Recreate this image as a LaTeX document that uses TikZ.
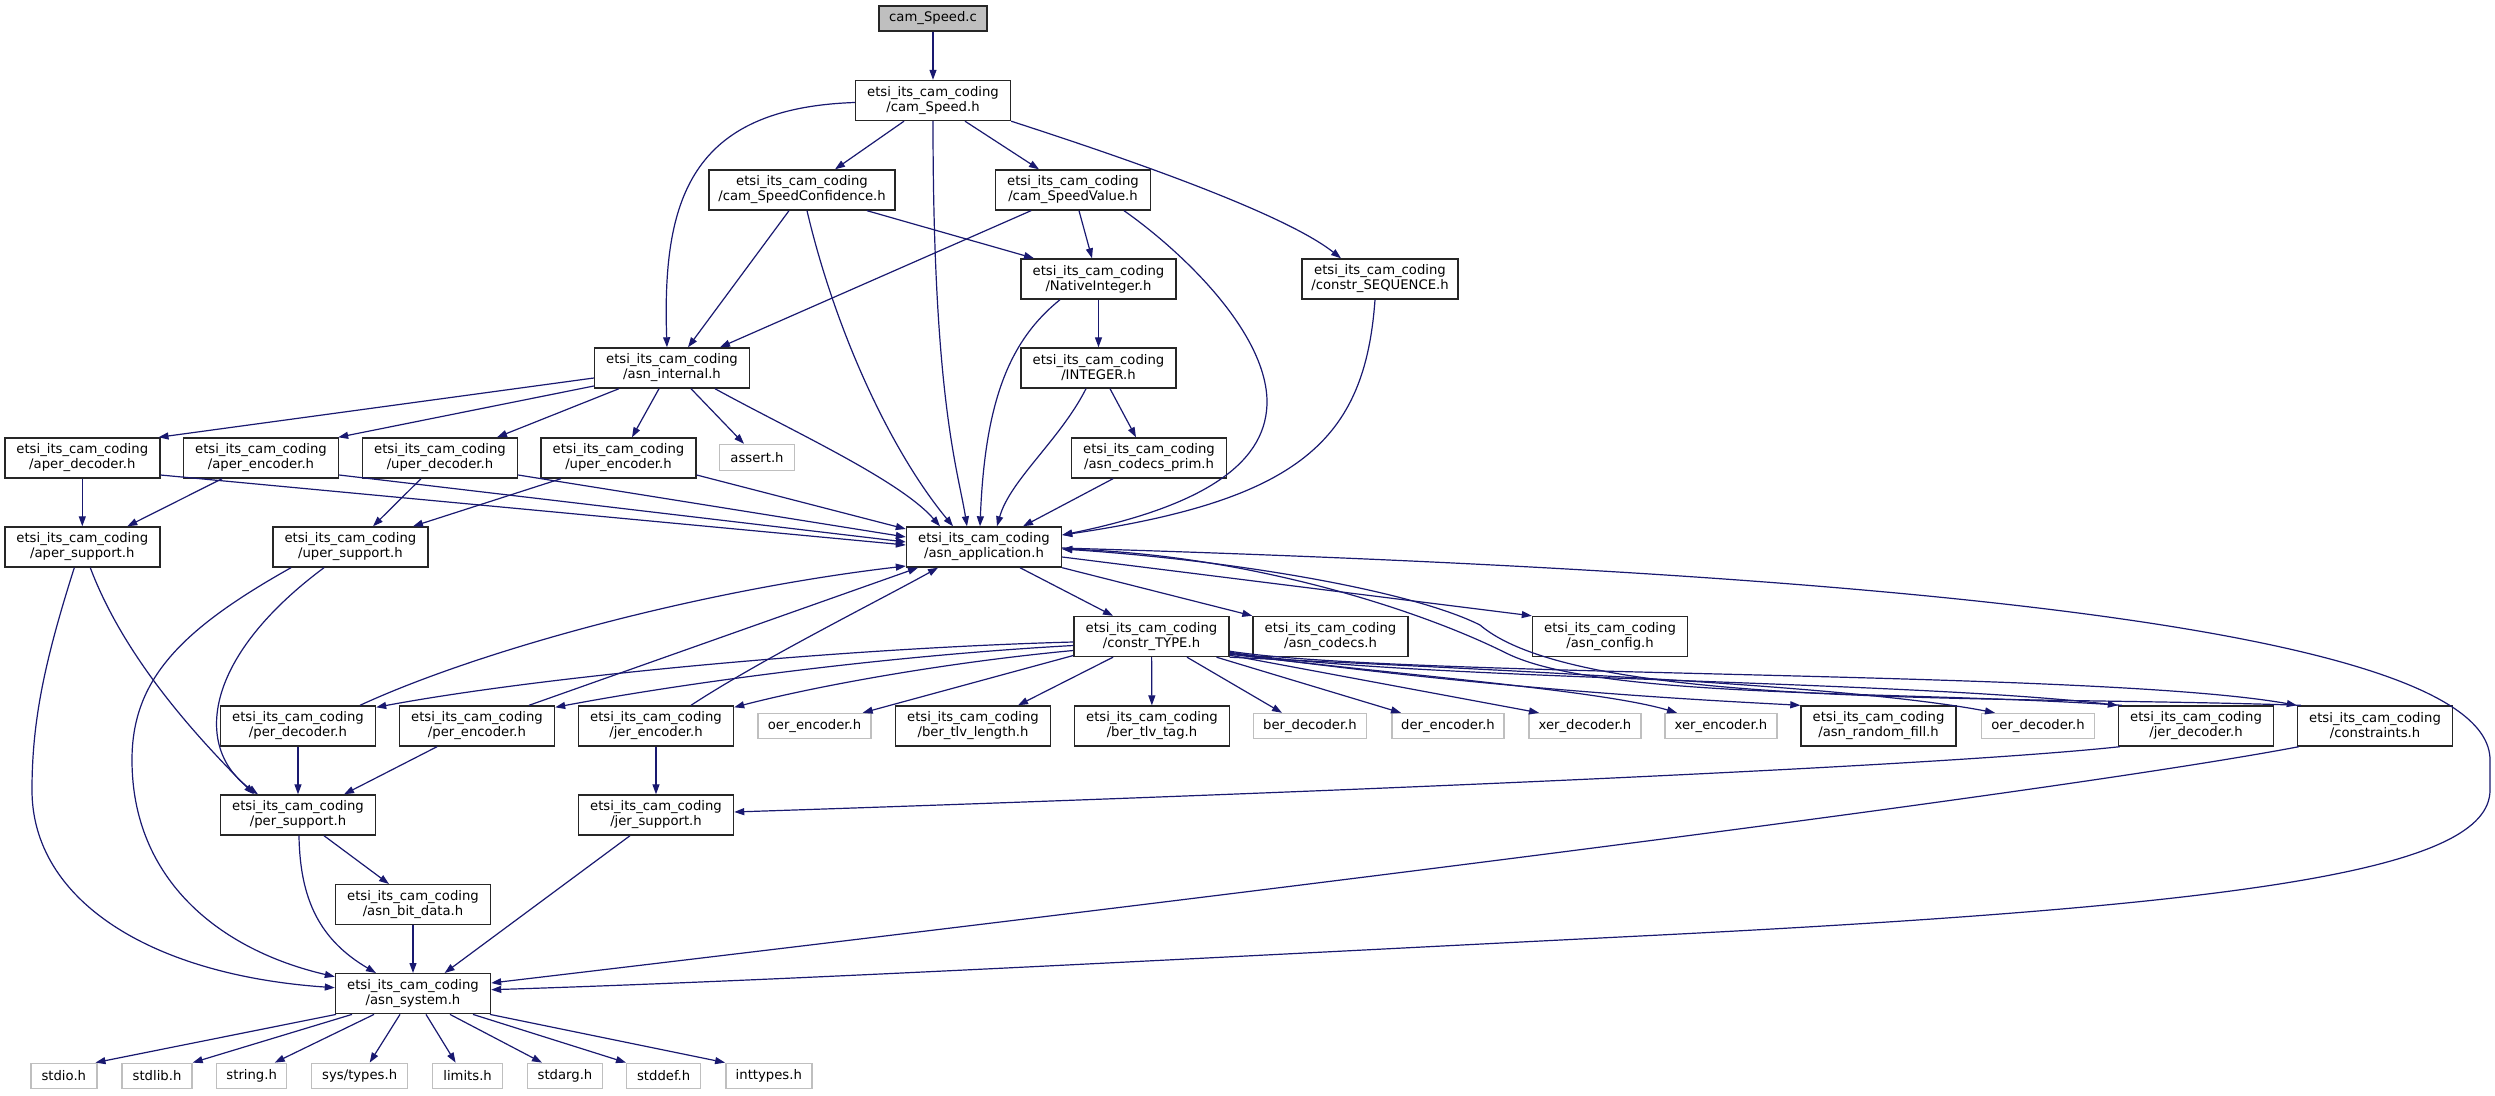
\documentclass[tikz,border=0pt]{standalone}
\usepackage{fontspec}
\setmainfont{DejaVu Sans}
\usetikzlibrary{arrows.meta}
\definecolor{mblue}{RGB}{25,25,112}
\definecolor{lgray}{RGB}{191,191,191}
\newcommand\etsilbl[1]{etsi\_its\_cam\_coding\\/#1}
\tikzset{
  box/.style={draw=black!85, line width=1.4pt, fill=white, minimum width=#1, minimum height=40pt,
    inner sep=0pt, align=center, font=\fontsize{13.2pt}{15pt}\selectfont},
  box/.default=155pt,
  sbox/.style={draw=lgray, line width=1.4pt, fill=white, minimum width=#1, minimum height=25pt,
    inner sep=0pt, align=center, font=\fontsize{13.2pt}{15pt}\selectfont},
  e/.style={draw=mblue, line width=1.2pt, -{Triangle[length=10pt,width=7pt]}}
}
\begin{document}
\begin{tikzpicture}[x=1pt,y=-1pt]
\useasboundingbox (0,0) rectangle (2495,1095);
\fill[white] (0,0) rectangle (2495,1095);
% nodes
\node[box=108pt, minimum height=25pt, fill=lgray] (c) at (933,18.5) {cam\_Speed.c};
\node[box] (speed) at (933,100.5) {\etsilbl{cam\_Speed.h}};
\node[box=186pt] (conf) at (802,190) {\etsilbl{cam\_SpeedConfidence.h}};
\node[box] (val) at (1073,190) {\etsilbl{cam\_SpeedValue.h}};
\node[box] (nat) at (1098.5,279) {\etsilbl{NativeInteger.h}};
\node[box=156pt] (seq) at (1380,279) {\etsilbl{constr\_SEQUENCE.h}};
\node[box] (asnint) at (672,368) {\etsilbl{asn\_internal.h}};
\node[box] (integer) at (1098.5,368) {\etsilbl{INTEGER.h}};
\node[box] (apd) at (82.3,458) {\etsilbl{aper\_decoder.h}};
\node[box] (ape) at (261,458) {\etsilbl{aper\_encoder.h}};
\node[box] (upd) at (440,458) {\etsilbl{uper\_decoder.h}};
\node[box] (upe) at (618.5,458) {\etsilbl{uper\_encoder.h}};
\node[sbox=75pt, minimum height=26pt] (assert) at (757,457.5) {assert.h};
\node[box] (prim) at (1149,458) {\etsilbl{asn\_codecs\_prim.h}};
\node[box] (aps) at (82.3,547) {\etsilbl{aper\_support.h}};
\node[box] (ups) at (350.4,547) {\etsilbl{uper\_support.h}};
\node[box] (app) at (984,547) {\etsilbl{asn\_application.h}};
\node[box] (type) at (1151.5,636.5) {\etsilbl{constr\_TYPE.h}};
\node[box] (codecs) at (1330.5,636.5) {\etsilbl{asn\_codecs.h}};
\node[box] (config) at (1610,636.5) {\etsilbl{asn\_config.h}};
\node[box] (pd) at (298,726) {\etsilbl{per\_decoder.h}};
\node[box] (pe) at (477,726) {\etsilbl{per\_encoder.h}};
\node[box] (je) at (656,726) {\etsilbl{jer\_encoder.h}};
\node[sbox=113pt] (oere) at (814.5,726) {oer\_encoder.h};
\node[box] (btl) at (973,726) {\etsilbl{ber\_tlv\_length.h}};
\node[box] (btt) at (1152,726) {\etsilbl{ber\_tlv\_tag.h}};
\node[sbox=113pt] (bd) at (1310,726) {ber\_decoder.h};
\node[sbox=112pt] (de) at (1448,726) {der\_encoder.h};
\node[sbox=112pt] (xd) at (1585,726) {xer\_decoder.h};
\node[sbox=112pt] (xe) at (1721,726) {xer\_encoder.h};
\node[box] (rf) at (1878.5,726) {\etsilbl{asn\_random\_fill.h}};
\node[sbox=113pt] (oerd) at (2038,726) {oer\_decoder.h};
\node[box] (jd) at (2196,726) {\etsilbl{jer\_decoder.h}};
\node[box] (cons) at (2375,726) {\etsilbl{constraints.h}};
\node[box] (ps) at (298,815) {\etsilbl{per\_support.h}};
\node[box] (js) at (656,815) {\etsilbl{jer\_support.h}};
\node[box] (bit) at (413,904.7) {\etsilbl{asn\_bit\_data.h}};
\node[box] (sys) at (413,993.7) {\etsilbl{asn\_system.h}};
\node[sbox=66pt] (stdio) at (63.8,1075.8) {stdio.h};
\node[sbox=70pt] (stdlib) at (157,1075.8) {stdlib.h};
\node[sbox=70pt] (string) at (251.7,1075.8) {string.h};
\node[sbox=96pt] (systypes) at (359.7,1075.8) {sys/types.h};
\node[sbox=70pt] (limits) at (467.6,1075.8) {limits.h};
\node[sbox=75pt] (stdarg) at (565,1075.8) {stdarg.h};
\node[sbox=74pt] (stddef) at (663.7,1075.8) {stddef.h};
\node[sbox=86pt] (inttypes) at (768.8,1075.8) {inttypes.h};
% edges: top part
\draw[e] (c) -- (speed);
\draw[e] ([xshift=-29pt]speed.south) -- ([xshift=33pt]conf.north);
\draw[e] ([xshift=32pt]speed.south) -- ([xshift=-34pt]val.north);
\draw[e] (speed.south east) .. controls (1100,150) and (1280,210) .. ([xshift=-39pt]seq.north);
\draw[e] ([yshift=-2pt]speed.west) .. controls (690,108) and (662,200) .. ([xshift=-5pt]asnint.north);
\draw[e] (speed.south) .. controls (933,400) and (958,470) .. ([xshift=-17pt]app.north);
\draw[e] ([xshift=-13pt]conf.south) -- ([xshift=16pt]asnint.north);
\draw[e] ([xshift=5pt]conf.south) .. controls (835,330) and (890,450) .. ([xshift=-31pt]app.north);
\draw[e] ([xshift=65pt]conf.south) -- ([xshift=-64.5pt]nat.north);
\draw[e] ([xshift=-42pt]val.south) -- ([xshift=48pt]asnint.north);
\draw[e] ([xshift=6pt]val.south) -- ([xshift=-6.5pt]nat.north);
\draw[e] ([xshift=51pt]val.south) .. controls (1180,250) and (1265,330) .. (1267,400) .. controls (1268,460) and (1210,505) .. ([yshift=12pt]app.east);
\draw[e] (nat) -- (integer);
\draw[e] ([xshift=-38.5pt]nat.south) .. controls (1010,340) and (985,400) .. ([xshift=-4pt]app.north);
\draw[e] ([xshift=11.5pt]integer.south) -- ([xshift=-13pt]prim.north);
\draw[e] ([xshift=-12.5pt]integer.south) .. controls (1060,440) and (1010,480) .. ([xshift=13pt]app.north);
\draw[e] ([xshift=-36pt]prim.south) -- ([xshift=39pt]app.north);
\draw[e] ([xshift=-5pt]seq.south) .. controls (1365,440) and (1300,500) .. ([yshift=12pt]app.east);
% asn_internal
\draw[e] ([yshift=-10pt]asnint.west) -- ([xshift=-2pt]apd.north east);
\draw[e] ([yshift=-18pt]asnint.west) -- ([xshift=-1pt]ape.north east);
\draw[e] ([xshift=-53pt]asnint.south) -- ([xshift=57pt]upd.north);
\draw[e] ([xshift=-13pt]asnint.south) -- ([xshift=13.5pt]upe.north);
\draw[e] ([xshift=19pt]asnint.south) -- ([xshift=-13pt]assert.north);
\draw[e] ([xshift=43pt]asnint.south) .. controls (790,430) and (900,480) .. ([xshift=-44pt]app.north);
% aper / uper
\draw[e] (apd) -- (aps);
\draw[e] ([yshift=-17pt]apd.east) -- ([yshift=2pt]app.west);
\draw[e] ([xshift=-39pt]ape.south) -- ([xshift=45pt]aps.north);
\draw[e] ([yshift=-17pt]ape.east) -- ([yshift=5pt]app.west);
\draw[e] ([xshift=-19pt]upd.south) -- ([xshift=22.6pt]ups.north);
\draw[e] ([yshift=-17pt]upd.east) -- ([yshift=10pt]app.west);
\draw[e] ([xshift=-57.5pt]upe.south) -- ([xshift=62.6pt]ups.north);
\draw[e] ([yshift=-17pt]upe.east) -- ([yshift=18pt]app.west);
\draw[e] ([xshift=8pt]aps.south) .. controls (125,660) and (200,740) .. ([xshift=-44pt]ps.north);
\draw[e] ([xshift=-8pt]aps.south) .. controls (45,660) and (32,720) .. (32,790) .. controls (32,900) and (150,975) .. ([yshift=6pt]sys.west);
\draw[e] ([xshift=-59.4pt]ups.south) .. controls (180,630) and (132,680) .. (132,760) .. controls (132,880) and (220,950) .. ([yshift=17pt]sys.west);
\draw[e] ([xshift=-26.4pt]ups.south) .. controls (200,660) and (195,750) .. ([xshift=-40pt]ps.north);
% per / jer
\draw[e] (pd) -- (ps);
\draw[e] ([xshift=-40pt]pe.south) -- ([xshift=46pt]ps.north);
\draw[e] (je) -- (js);
\draw[e] ([xshift=62pt]pd.north) .. controls (480,650) and (700,590) .. ([yshift=-19pt]app.west);
\draw[e] ([xshift=52pt]pe.north) -- ([xshift=-66pt]app.south);
\draw[e] ([xshift=35pt]je.north) .. controls (760,660) and (880,600) .. ([xshift=-46pt]app.south);
\draw[e] ([xshift=26pt]ps.south) -- ([xshift=-24pt]bit.north);
\draw[e] ([xshift=1pt]ps.south) .. controls (300,900) and (320,940) .. ([xshift=-37pt]sys.north);
\draw[e] (bit) -- (sys);
\draw[e] ([xshift=-26pt]js.south) -- ([xshift=31.6pt]sys.north);
% asn_application outgoing
\draw[e] ([xshift=36pt]app.south) -- ([xshift=-38.5pt]type.north);
\draw[e] (app.south east) -- (codecs.north west);
\draw[e] ([yshift=-10pt]app.east) -- (config.north west);
\draw[e] ([yshift=-1pt]app.east) .. controls (1800,570) and (2490,620) .. (2490,760) -- (2490,790) .. controls (2490,870) and (2250,905) .. (1660,935) .. controls (1200,958) and (800,980) .. ([yshift=4pt]sys.east);
% constr_TYPE outgoing
\draw[e] ([yshift=-5.5pt]type.west) .. controls (850,648) and (550,675) .. ([yshift=-2pt]pd.north east);
\draw[e] ([yshift=-9pt]type.west) .. controls (900,655) and (700,680) .. ([yshift=-2pt]pe.north east);
\draw[e] ([yshift=-14pt]type.west) .. controls (950,662) and (820,685) .. ([yshift=-2pt]je.north east);
\draw[e] ([yshift=-19pt]type.west) -- ([xshift=-9pt]oere.north east);
\draw[e] ([xshift=-38.5pt]type.south) -- ([xshift=45pt]btl.north);
\draw[e] (type) -- (btt);
\draw[e] ([xshift=35.5pt]type.south) -- ([xshift=-28pt]bd.north);
\draw[e] ([xshift=65pt]type.south) -- ([xshift=-47pt]de.north);
\draw[e] ([yshift=2pt]type.south east) -- ([xshift=-46pt]xd.north);
\draw[e] ([yshift=3pt]type.south east) .. controls (1400,675) and (1600,690) .. ([xshift=-44pt]xe.north);
\draw[e] ([yshift=4pt]type.south east) .. controls (1500,690) and (1700,700) .. (rf.north west);
\draw[e] (type.south east) .. controls (1500,670) and (1850,685) .. ([xshift=-43pt]oerd.north);
\draw[e] ([yshift=5pt]type.south east) .. controls (1400,680) and (1900,680) .. (jd.north west);
\draw[e] ([yshift=6pt]type.south east) .. controls (1400,678) and (2100,670) .. (cons.north west);
% jer_decoder / constraints
\draw[e] ([xshift=4pt]jd.north west) .. controls (1900,690) and (1600,700) .. (1506,653) .. controls (1420,610) and (1250,555) .. ([yshift=-2pt]app.east);
\draw[e] ([xshift=4pt]cons.north west) .. controls (2000,695) and (1580,710) .. (1480,625) .. controls (1410,590) and (1230,560) .. ([yshift=-2pt]app.east);
\draw[e] ([xshift=2pt]jd.south west) .. controls (1950,765) and (1400,790) .. ([yshift=3pt]js.east);
\draw[e] ([xshift=2pt]cons.south west) .. controls (2150,775) and (1700,840) .. ([yshift=10.7pt]sys.east);
% asn_system leaves
\draw[e] ([xshift=-77pt]sys.south) -- ([xshift=-2pt]stdio.north east);
\draw[e] ([xshift=-61pt]sys.south) -- (stdlib.north east);
\draw[e] ([xshift=-39pt]sys.south) -- ([xshift=23pt]string.north);
\draw[e] ([xshift=-13pt]sys.south) -- ([xshift=10pt]systypes.north);
\draw[e] ([xshift=13pt]sys.south) -- ([xshift=-12pt]limits.north);
\draw[e] ([xshift=37pt]sys.south) -- ([xshift=-23pt]stdarg.north);
\draw[e] ([xshift=60pt]sys.south) -- (stddef.north west);
\draw[e] ([xshift=77pt]sys.south) -- (inttypes.north west);
\end{tikzpicture}
\end{document}
